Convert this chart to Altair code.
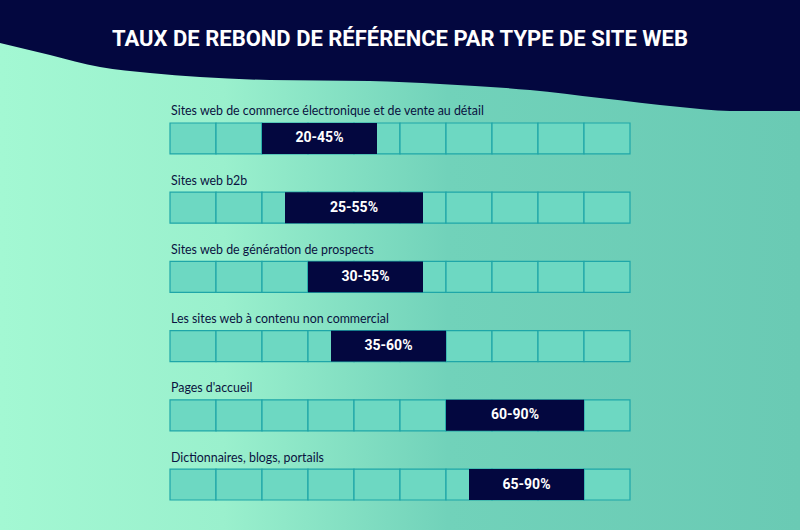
import altair as alt
import pandas as pd

# ---- data ----
categories = [
    "Sites web de commerce électronique et de vente au détail",
    "Sites web b2b",
    "Sites web de génération de prospects",
    "Les sites web à contenu non commercial",
    "Pages d'accueil",
    "Dictionnaires, blogs, portails",
]
range_low = [20, 25, 30, 35, 60, 65]
range_high = [45, 55, 55, 60, 90, 90]
range_labels = ["20-45%", "25-55%", "30-55%", "35-60%", "60-90%", "65-90%"]
cell_edges = [0, 10, 20, 30, 40, 50, 60, 70, 80, 90, 100]

title_text = "TAUX DE REBOND DE RÉFÉRENCE PAR TYPE DE SITE WEB"

# decorative wave outline (pixel space) for the header band
wave_x = [0, 50, 100, 150, 200, 270, 370, 440, 530, 600, 680, 730, 800]
wave_y = [43, 55, 67, 73, 77, 80, 81, 84, 90, 98, 107, 111, 111]

# ---- tables ----
bars = pd.DataFrame({"cat": categories, "lo": range_low, "hi": range_high, "label": range_labels})
cells = pd.DataFrame(
    [{"cat": c, "c0": cell_edges[i], "c1": cell_edges[i + 1]} for c in categories for i in range(10)]
)
wave = pd.DataFrame({"wx": wave_x, "wy": wave_y})
dummy = pd.DataFrame({"k": [0]})

W, H = 800, 530
NAVY = "#03073f"

xs = alt.Scale(domain=[0, 100], range=[170, 630])


def ys():
    return alt.Scale(type="band", domain=categories, range=[123, 500], paddingInner=0.553, paddingOuter=0)


bg = alt.Chart(dummy).mark_rect(
    color=alt.LinearGradient(
        gradient="linear",
        stops=[
            alt.GradientStop(offset=0, color="#a3f8d3"),
            alt.GradientStop(offset=0.28, color="#9af0cd"),
            alt.GradientStop(offset=0.56, color="#71d2ba"),
            alt.GradientStop(offset=1, color="#6acab4"),
        ],
        x1=0, x2=1, y1=0, y2=0,
    )
).encode(x=alt.value(0), x2=alt.value(W), y=alt.value(0), y2=alt.value(H))

header = alt.Chart(wave).mark_area(color=NAVY, interpolate="monotone").encode(
    x=alt.X("wx:Q", scale=alt.Scale(domain=[0, W], range=[0, W]), axis=None),
    y=alt.Y("wy:Q", scale=alt.Scale(domain=[0, H], range=[0, H]), axis=None),
    y2=alt.value(0),
)

title = alt.Chart(dummy).mark_text(
    text=title_text, font="Roboto", fontWeight="bold", fontSize=22,
    color="white", align="center", baseline="middle",
).encode(x=alt.value(400), y=alt.value(39))

cell_layer = alt.Chart(cells).mark_rect(
    fill="#6dd8c2", stroke="#1fa6a8", strokeWidth=1.2
).encode(
    x=alt.X("c0:Q", scale=xs, axis=None),
    x2="c1:Q",
    y=alt.Y("cat:N", scale=ys(), axis=None),
)

bar_layer = alt.Chart(bars).mark_rect(fill=NAVY).encode(
    x=alt.X("lo:Q", scale=xs, axis=None),
    x2="hi:Q",
    y=alt.Y("cat:N", scale=ys(), axis=None),
)

bar_text = alt.Chart(bars).transform_calculate(mid="(datum.lo + datum.hi) / 2").mark_text(
    font="Roboto", fontWeight="bold", fontSize=14, color="white", baseline="middle"
).encode(
    x=alt.X("mid:Q", scale=xs, axis=None),
    y=alt.Y("cat:N", scale=ys(), axis=None, bandPosition=0.5),
    text="label:N",
)

row_text = alt.Chart(bars).mark_text(
    font="Lato", fontSize=12.4, color="#0a1240", align="left", baseline="middle", dy=-27
).encode(
    x=alt.value(171),
    y=alt.Y("cat:N", scale=ys(), axis=None, bandPosition=0.5),
    text="cat:N",
)

chart = alt.layer(bg, header, title, cell_layer, bar_layer, bar_text, row_text).resolve_scale(
    x="independent", y="independent"
).properties(
    width=W, height=H, padding=0, autosize=alt.AutoSizeParams(type="none")
).configure_view(stroke=None)

chart.save("out.html", embed_options={"renderer": "svg", "actions": False})
